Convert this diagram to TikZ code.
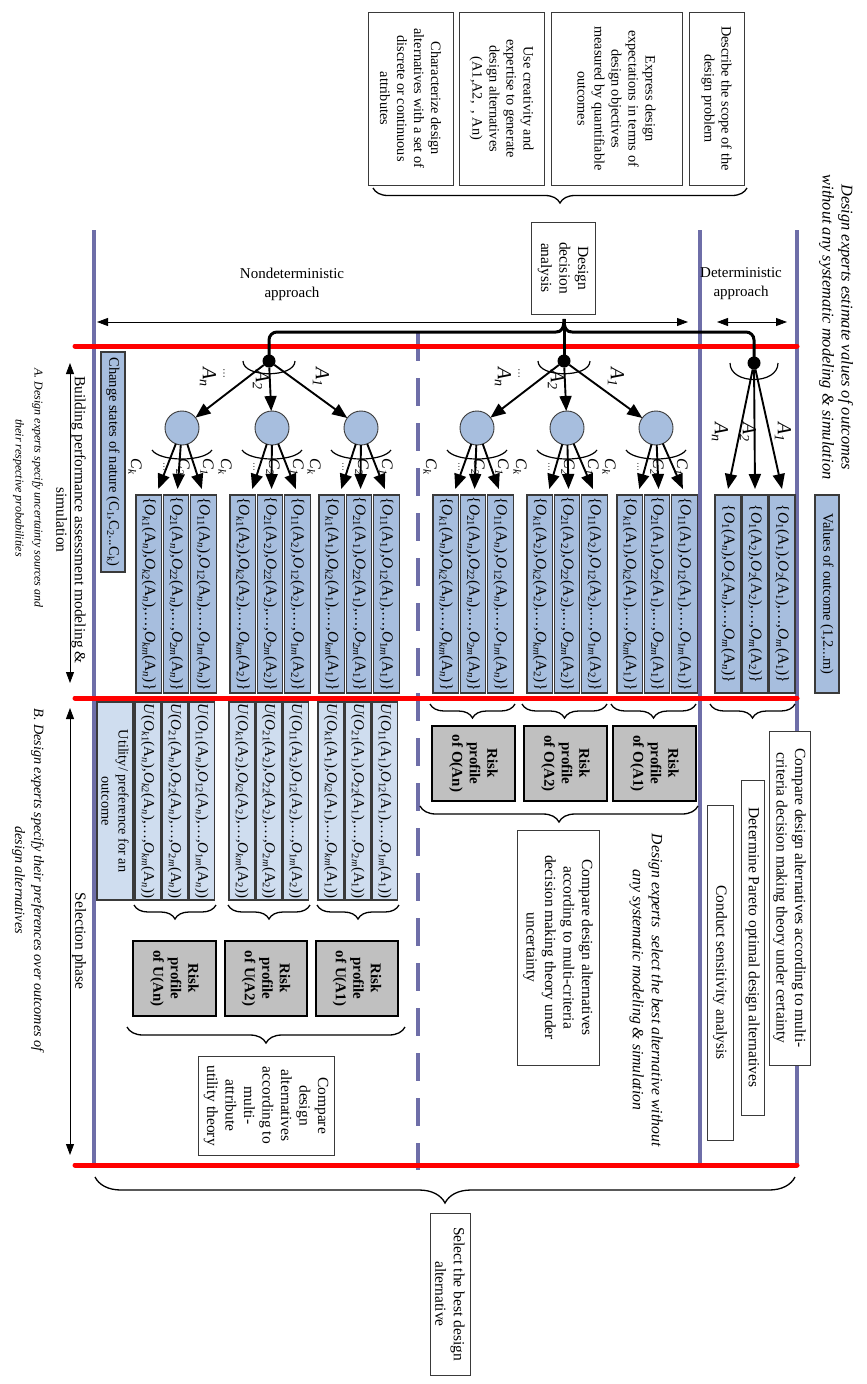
\documentclass[tikz,border=0pt]{standalone}
\usepackage{fontspec}
\setmainfont{Liberation Serif}
\usetikzlibrary{arrows.meta,decorations.pathreplacing,calc}

\definecolor{lanecol}{HTML}{6E6EA8}
\definecolor{outfill}{HTML}{A7BEDE}
\definecolor{utilfill}{HTML}{CFDDEF}
\definecolor{riskfill}{HTML}{C0C0C0}
\definecolor{phasered}{HTML}{FF0000}
\definecolor{edgegray}{HTML}{3A3A3A}

% outcome terms
\newcommand\Ov[2]{\textit{O}\textsubscript{#1}(A\textsubscript{#2})}
\newcommand\OSet[2]{\{\Ov{#11}{#2},\Ov{#12}{#2},\ldots,\Ov{#1\textit{m}}{#2}\}}
\newcommand\USet[2]{\textit{U}(\Ov{#11}{#2},\Ov{#12}{#2},\ldots,\Ov{#1\textit{m}}{#2})}
\newcommand\DSet[1]{\{\Ov{1}{#1},\Ov{2}{#1},\ldots,\Ov{\textit{m}}{#1}\}}

% rotated box given by its page corners: name, style, x1, y1, x2, y2, text
\newcommand\RotBox[7]{\node[#2, minimum width={(#6)-(#4)}, minimum height={(#5)-(#3)}] (#1) at ({((#3)+(#5))/2},{((#4)+(#6))/2}) {#7};}

\tikzset{
  every node/.style={inner sep=0pt, outer sep=0pt},
  bodyfont/.style={font=\fontsize{15.5}{18.5}\selectfont},
  rot/.style={rotate=-90},
  whitebox/.style={rot, draw=edgegray, line width=0.9pt, fill=white, align=center, bodyfont},
  topbox/.style={whitebox, font=\fontsize{14.3}{17}\selectfont},
  outbox/.style={rot, draw=edgegray, line width=1.1pt, fill=outfill, font=\fontsize{15.5}{16}\selectfont},
  utilbox/.style={outbox, fill=utilfill, font=\fontsize{15}{16}\selectfont},
  riskbox/.style={rot, draw=black, line width=2.2pt, fill=riskfill, align=center, font=\bfseries\fontsize{15}{17.5}\selectfont},
  notetext/.style={rot, align=center, font=\itshape\fontsize{#1}{19}\selectfont},
  notetext/.default=16,
  captext/.style={rot, align=center, bodyfont},
  flattext/.style={align=center, font=\fontsize{15}{19}\selectfont},
  lane/.style={draw=lanecol, line width=3.4pt},
  phase/.style={draw=phasered, line width=5pt, line cap=round},
  bigarrow/.style={draw=black, line width=1.9pt, -{Triangle[length=15pt,width=12pt]}},
  spanarrow/.style={draw=black, line width=0.8pt, {Triangle[length=11pt,width=8pt]}-{Triangle[length=11pt,width=8pt]}},
  chance/.style={circle, draw=edgegray, line width=0.9pt, fill=outfill, minimum size=34pt},
  choice/.style={circle, fill=black, minimum size=13pt},
  curly/.style={draw=black, line width=1.3pt, decorate, decoration={brace, amplitude=#1}},
  curly/.default=15pt,
  bracket/.style={draw=black, line width=3pt},
  fork/.style={draw=black, line width=1.2pt},
  lbl/.style={rot, font=\itshape\fontsize{20}{20}\selectfont},
  clbl/.style={rot, font=\itshape\fontsize{16}{16}\selectfont},
}

\begin{document}
\begin{tikzpicture}[x=1pt, y=-1pt]
\useasboundingbox (0,0) rectangle (867,1384);
\fill[white] (0,0) rectangle (867,1384);

% swim-lane separators
\draw[lane] (94,230) -- (94,1165);
\draw[lane] (700,230) -- (700,1165);
\draw[lane] (797,230) -- (797,1165);
\draw[lane, line width=3.2pt, dash pattern=on 28pt off 17pt] (418,333) -- (418,1170);

% phase boundaries
\foreach \yy in {346,698,1165} \draw[phase] (75,\yy) -- (797,\yy);

% problem framing
\RotBox{scope}{topbox}{689}{12}{744}{185}{Describe the scope of the\\design problem}
\RotBox{expect}{topbox}{551}{12}{682}{185}{Express design\\expectations in terms of\\design objectives\\measured by quantifiable\\outcomes}
\RotBox{create}{topbox}{459}{12}{544}{185}{Use creativity and\\expertise to generate\\design alternatives\\(A1,A2,\ \ , An)}
\RotBox{charac}{topbox}{368}{12}{453}{185}{Characterize design\\alternatives with a set of\\discrete or continuous\\attributes}
\draw[curly] (747,188) -- (373,188);
\RotBox{dda}{whitebox}{531}{222}{595}{314}{Design\\decision\\analysis}

\node[notetext=16.4] (estnote) at (836,327) {Design experts estimate values of outcomes\\without any systematic modeling \& simulation};

% approaches
\node[flattext] (nondet) at (292,284) {Nondeterministic\\approach};
\node[flattext] (det) at (741,284) {Deterministic\\approach};
\coordinate (ndl) at (97,322); \coordinate (ndr) at (688,322);
\draw[spanarrow] (ndl) -- (ndr);
\coordinate (dl) at (717,322); \coordinate (dr) at (787,322);
\draw[spanarrow] (dl) -- (dr);

% phase annotations on the left
\coordinate (bt) at (70,363); \coordinate (bb) at (70,683);
\draw[spanarrow] (bt) -- (bb);
\node[captext] (build) at (71,520) {Building performance assessment modeling \&\\simulation};
\node[notetext=12] (notea) at (28,488) {A. Design experts specify uncertainty sources and\\their respective probabilities};
\coordinate (st) at (70,708); \coordinate (sb) at (70,1155);
\draw[spanarrow] (st) -- (sb);
\node[captext] (selph) at (79,941) {Selection phase};
\node[notetext=14.2] (noteb) at (28,880) {B. Design experts specify their preferences over outcomes of\\design alternatives};

% decision nodes and the alternatives bracket
\node[choice] (dotL) at (269,361) {};
\node[choice] (dotR) at (564,361) {};
\node[choice] (dotD) at (754,363) {};
\coordinate (cusp) at (564,319);
\coordinate (cuspl) at (556,332);
\coordinate (cuspr) at (572,332);
\draw[bracket, rounded corners=8pt] (dotL.center) |- (cuspl);
\draw[bracket] (cuspl) .. controls (561,332) and (564,329) .. (cusp) .. controls (564,329) and (567,332) .. (cuspr);
\draw[bracket, rounded corners=8pt] (cuspr) -| (dotD.center);
\draw[bracket] (cusp) -- (dotR.center);

\foreach \p in {L,R}{
  \draw[fork] ($(dot\p)+(-26,0)$) .. controls +(0,17) and +(0,17) .. ($(dot\p)+(26,0)$);
}
\draw[fork] ($(dotD)+(-24,0)$) .. controls +(0,22) and +(0,22) .. ($(dotD)+(24,0)$);

\foreach \p/\dx in {L/269, R/564}{
  \foreach \nm/\an/\lx/\ly in {n/\textit{n}/-61/377, 2/2/-8/380, 1/1/52/377}
    \node[lbl] (al\p\nm) at (\dx+\lx,\ly) {A\textsubscript{\an}};
  \node[rot, font=\fontsize{10}{10}\selectfont] (ad\p) at (\dx-45,373) {\ldots};
}

% chance nodes and outcome sets
\foreach \p/\gx/\an/\gi/\cx in {L/136/\textit{n}/1/182, L/230/2/2/272, L/319/1/3/361, R/433/\textit{n}/1/477, R/527/2/2/567, R/617/1/3/656}{
  \node[chance] (ch\p\gi) at (\cx,428) {};
  \draw[bigarrow] (dot\p) -- (ch\p\gi);
  \draw[fork] ($(ch\p\gi)+(-30,22)$) .. controls +(8,12) and +(-8,12) .. ($(ch\p\gi)+(30,22)$);
  \node[rot, font=\fontsize{9}{9}\selectfont] (cd\p\gi) at (\cx-18,467) {\ldots};
  \foreach \rw/\rn/\j/\xo/\lx in {k/\textit{k}/0/9.5/-47, 2/2/1/1.5/1, 1/1/2/-1.5/25}{
    \RotBox{o\p\gi\rw}{outbox}{\gx+27.3*\j}{495}{\gx+27.3*\j+25.5}{693}{\OSet{\rn}{\an}}
    \draw[bigarrow] (ch\p\gi) -- ([xshift=\xo, yshift=6pt]o\p\gi\rw.west);
    \node[clbl] (cl\p\gi\rw) at (\cx+\lx,467) {C\textsubscript{\rn}};
  }
}

% deterministic outcomes
\foreach \nm/\an/\j/\lx in {n/\textit{n}/0/-34, 2/2/1/-6, 1/1/2/29}{
  \RotBox{oD\nm}{outbox}{715+27*\j}{495}{715+27*\j+26}{693}{\DSet{\an}}
  \draw[bigarrow] (dotD) -- ([yshift=6pt]oD\nm.west);
  \node[lbl] (alD\nm) at (754+\lx,432) {A\textsubscript{\an}};
}

\RotBox{nature}{outbox, font=\fontsize{14.5}{16}\selectfont}{101}{352}{125}{572}{Change states of nature (C\textsubscript{1},C\textsubscript{2}...C\textsubscript{k})}
\RotBox{values}{outbox, font=\fontsize{14.5}{16}\selectfont}{815}{495}{839}{693}{Values of outcome (1,2...m)}

% utilities
\RotBox{pref}{utilbox, align=center, font=\fontsize{14.3}{17}\selectfont}{97}{702}{133}{900}{Utility/ preference for an\\outcome}
\foreach \gx/\an/\gi in {135/\textit{n}/1, 229/2/2, 318/1/3}{
  \foreach \rw/\rn/\j in {k/\textit{k}/0, 2/2/1, 1/1/2}{
    \RotBox{u\gi\rw}{utilbox}{\gx+27*\j}{702}{\gx+27*\j+25.5}{900}{\USet{\rn}{\an}}
  }
  \draw[curly=14pt] (\gx+81,905) -- (\gx-1,905);
}
\RotBox{riskUn}{riskbox}{133}{941}{216}{1016}{Risk\\profile\\of U(An)}
\RotBox{riskU2}{riskbox}{225}{941}{307}{1016}{Risk\\profile\\of U(A2)}
\RotBox{riskU1}{riskbox}{316}{941}{398}{1016}{Risk\\profile\\of U(A1)}
\draw[curly=16pt] (405,1027) -- (127,1027);
\RotBox{maut}{whitebox}{198}{1056}{334}{1155}{Compare\\design\\alternatives\\according to\\multi-\\attribute\\utility theory}

% outcome risk profiles
\draw[curly=14pt] (515,704) -- (430,704);
\draw[curly=14pt] (607,704) -- (522,704);
\draw[curly=14pt] (696,704) -- (611,704);
\draw[curly=14pt] (795,704) -- (710,704);
\RotBox{riskOn}{riskbox}{432}{726}{515}{801}{Risk\\profile\\of O(An)}
\RotBox{riskO2}{riskbox}{524}{726}{607}{801}{Risk\\profile\\of O(A2)}
\RotBox{riskO1}{riskbox}{613}{726}{696}{801}{Risk\\profile\\of O(A1)}
\draw[curly=16pt] (698,806) -- (420,806);
\RotBox{mcdmU}{whitebox}{517}{830}{599}{1065}{Compare design alternatives\\according to multi-criteria\\decision making theory under\\uncertainty}
\node[notetext=15.7] (notes) at (646,990) {Design experts\ \ select the best alternative without\\any systematic modeling \& simulation};

% deterministic selection
\RotBox{sens}{whitebox}{707}{805}{733}{1140}{Conduct sensitivity analysis}
\RotBox{pareto}{whitebox}{741}{780}{764}{1115}{Determine Pareto optimal design alternatives}
\RotBox{mcdmC}{whitebox}{769}{731}{810}{1065}{Compare design alternatives according to multi-\\criteria decision making theory under certainty}

% final choice
\draw[curly=26pt] (795,1177) -- (95,1177);
\RotBox{best}{whitebox}{430}{1213}{470}{1375}{Select the best design\\alternative}
\end{tikzpicture}
\end{document}
